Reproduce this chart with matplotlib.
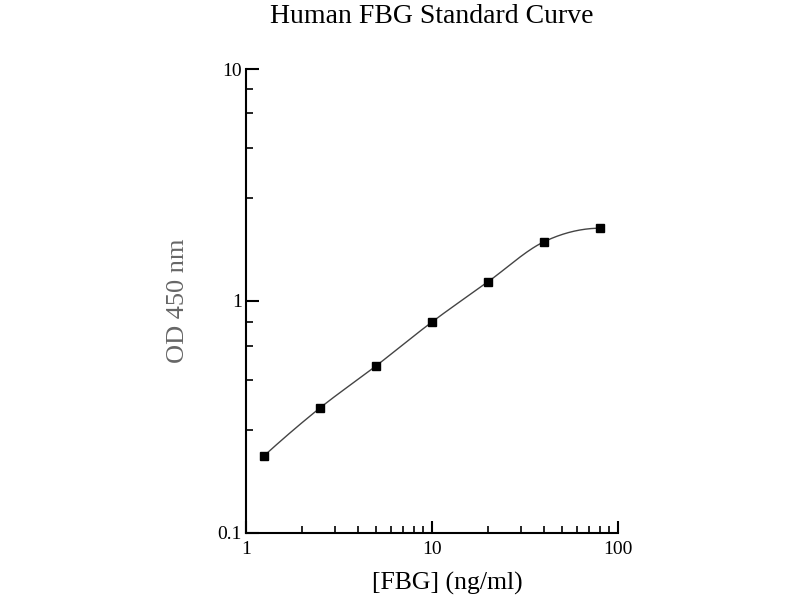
import matplotlib
matplotlib.use("Agg")
import matplotlib.pyplot as plt
import numpy as np

# standard curve data
conc = [1.25, 2.5, 5, 10, 20, 40, 80]          # ng/ml
od = [0.215, 0.346, 0.525, 0.812, 1.21, 1.80, 2.06]

# odd minor tick spots on the y axis of the original software
y_minor = [0.277, 0.455, 0.638, 0.813, 2.79, 4.55, 6.46, 8.18]


def smooth_line(x, y, xn):
    # cubic hermite through the points (catmull-rom tangents), only to draw the line
    x = np.asarray(x, float)
    y = np.asarray(y, float)
    h = np.diff(x)
    s = np.diff(y) / h
    n = len(x)
    m = np.zeros(n)
    m[1:-1] = (s[:-1] + s[1:]) / 2
    m[0] = ((2 * h[0] + h[1]) * s[0] - h[0] * s[1]) / (h[0] + h[1])
    m[-1] = ((2 * h[-1] + h[-2]) * s[-1] - h[-1] * s[-2]) / (h[-1] + h[-2])
    out = np.empty_like(xn)
    for k, xv in enumerate(xn):
        i = min(max(np.searchsorted(x, xv) - 1, 0), n - 2)
        t = (xv - x[i]) / h[i]
        h00 = 2 * t ** 3 - 3 * t ** 2 + 1
        h10 = t ** 3 - 2 * t ** 2 + t
        h01 = -2 * t ** 3 + 3 * t ** 2
        h11 = t ** 3 - t ** 2
        out[k] = h00 * y[i] + h10 * h[i] * m[i] + h01 * y[i + 1] + h11 * h[i] * m[i + 1]
    return out


plt.rcParams['font.family'] = ['Liberation Serif', 'DejaVu Serif']

fig = plt.figure(figsize=(8, 6), dpi=100)
ax = fig.add_axes([0.3075, 0.1117, 0.465, 0.7733])

# smooth line in log-log space
lx = np.log10(conc)
ly = np.log10(od)
xs = np.linspace(lx[0], lx[-1], 300)
ax.plot(10 ** xs, 10 ** smooth_line(lx, ly, xs), color='#444444', lw=1.0)
ax.plot(conc, od, 's', color='black', ms=5.5)

ax.set_xscale('log')
ax.set_yscale('log')
ax.set_xlim(1, 100)
ax.set_ylim(0.1, 10)

ax.set_xticks([1, 10, 100])
ax.set_xticklabels(['1', '10', '100'])
ax.set_yticks([0.1, 1, 10])
ax.set_yticklabels(['0.1', '1', '10'])
ax.set_yticks(y_minor, minor=True)
ax.yaxis.set_minor_formatter(matplotlib.ticker.NullFormatter())

ax.spines['top'].set_visible(False)
ax.spines['right'].set_visible(False)
ax.spines['left'].set_linewidth(1.5)
ax.spines['bottom'].set_linewidth(1.5)

ax.tick_params(which='major', direction='in', length=9, width=1.5, labelsize=14, pad=3)
ax.tick_params(which='minor', direction='in', length=5, width=1.2)
ax.tick_params(axis='x', which='major', pad=6)

ax.text(0.5, 1.114, 'Human FBG Standard Curve', transform=ax.transAxes,
        fontsize=20, ha='center', va='center')
ax.set_xlabel('[FBG] (ng/ml)', fontsize=18.5, va='center')
ax.xaxis.set_label_coords(0.54, -0.108)
ax.set_ylabel('OD 450 nm', fontsize=19, color='#666666', va='center')
ax.yaxis.set_label_coords(-0.183, 0.5)

fig.savefig('out.png', dpi=100)
